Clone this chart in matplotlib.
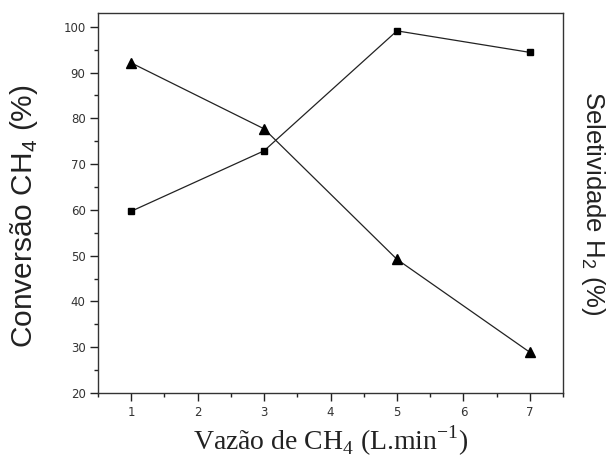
import matplotlib
matplotlib.use("Agg")
import matplotlib.pyplot as plt
from matplotlib.ticker import MultipleLocator

matplotlib.rcParams["mathtext.fontset"] = "custom"
matplotlib.rcParams["mathtext.rm"] = "Liberation Serif"
matplotlib.rcParams["mathtext.sf"] = "Liberation Sans"

vazao = [1, 3, 5, 7]
conversao_ch4 = [59.7, 72.9, 99.1, 94.4]
seletividade_h2 = [92.1, 77.7, 49.2, 28.9]

fig = plt.figure(figsize=(6.11, 4.58), dpi=100)
ax = fig.add_axes([0.1604, 0.1419, 0.7611, 0.8297])

ax.plot(vazao, conversao_ch4, color="#222222", lw=0.9, marker="s", ms=5,
        markerfacecolor="black", markeredgecolor="black")
ax.plot(vazao, seletividade_h2, color="#222222", lw=0.9, marker="^", ms=6.5,
        markerfacecolor="black", markeredgecolor="black")

ax.set_xlim(0.5, 7.5)
ax.set_ylim(20, 103)
ax.xaxis.set_major_locator(MultipleLocator(1))
ax.xaxis.set_minor_locator(MultipleLocator(0.5))
ax.yaxis.set_major_locator(MultipleLocator(10))
ax.yaxis.set_minor_locator(MultipleLocator(5))
ax.tick_params(which="major", direction="out", length=6, width=1.0,
               labelsize=8.5, top=False, right=False, color="#222222")
ax.tick_params(axis="y", which="major", pad=3)
ax.tick_params(axis="x", which="major", pad=3)
ax.tick_params(which="minor", direction="out", length=3, width=1.0,
               top=False, right=False, color="#222222")
for lab in ax.get_xticklabels() + ax.get_yticklabels():
    lab.set_fontfamily("DejaVu Sans")
    lab.set_color("#333333")
for s in ax.spines.values():
    s.set_linewidth(1.0)
    s.set_color("#333333")

fig.text(0.040, 0.528, r"Conversão CH$_\mathsf{4}$ (%)", rotation=90,
         fontfamily="Liberation Sans", fontsize=21.5, ha="center", va="center",
         color="#222222")
fig.text(0.971, 0.556, r"Seletividade H$_\mathsf{2}$ (%)", rotation=270,
         fontfamily="Liberation Sans", fontsize=18.5, ha="center", va="center",
         color="#222222")
fig.text(0.541, 0.0175, r"Vazão de CH$_\mathrm{4}$ (L.min$^{\mathrm{-1}}$)",
         fontfamily="Liberation Serif", fontsize=20, ha="center", va="baseline",
         color="#222222")

fig.savefig("out.png", dpi=100)
